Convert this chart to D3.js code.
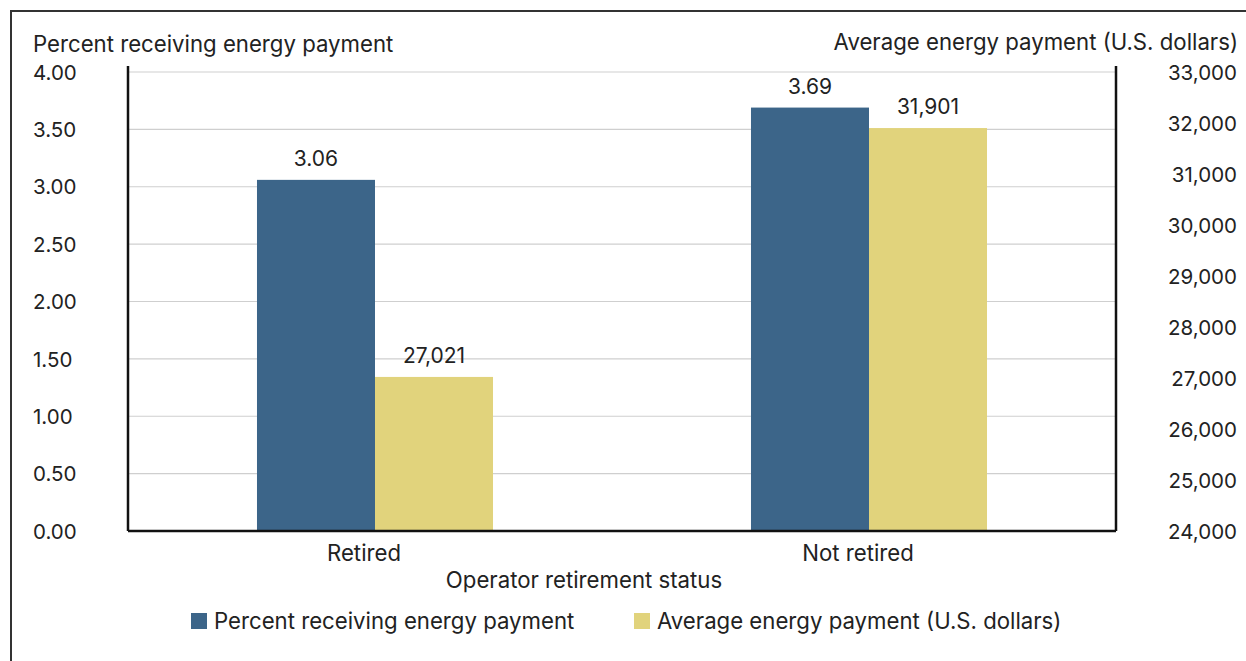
<!DOCTYPE html>
<html><head><meta charset="utf-8">
<script src="https://cdn.jsdelivr.net/npm/d3@7"></script>
<style>
html,body{margin:0;padding:0;background:#fff;}
svg text{font-family:Inter,"Open Sans",sans-serif;fill:#222;}
</style></head>
<body><svg id="c" width="1246" height="661"></svg>
<script>
const categories = ["Retired", "Not retired"];
const percentValues = [3.06, 3.69];
const paymentValues = [27021, 31901];
const leftTicks = [0, 0.5, 1, 1.5, 2, 2.5, 3, 3.5, 4];
const rightTicks = [24000, 25000, 26000, 27000, 28000, 29000, 30000, 31000, 32000, 33000];
const seriesNames = ["Percent receiving energy payment", "Average energy payment (U.S. dollars)"];
const colors = ["#3C6589", "#E1D37C"];

const svg = d3.select("#c");
const L = 128, R = 1116, T = 72, B = 531;
const fsWord = 22.2, fsVal = 21, fsTick = 20.5;

// outer frame
svg.append("path").attr("d", `M11,661 V11 H1246`).attr("fill","none").attr("stroke","#333").attr("stroke-width",2);

const x = d3.scaleBand().domain(categories).range([L, R]).paddingInner(0.5222).paddingOuter(0.2611);
const yL = d3.scaleLinear().domain([0, 4]).range([B, T]);
const yR = d3.scaleLinear().domain([24000, 33000]).range([B, T]);

// gridlines
svg.append("g").selectAll("line").data(leftTicks.slice(1)).join("line")
  .attr("x1", L).attr("x2", R).attr("y1", d => yL(d)).attr("y2", d => yL(d))
  .attr("stroke", "#cfcfcf").attr("stroke-width", 1.2);

// bars
const bw = x.bandwidth() / 2;
const g = svg.append("g");
g.selectAll("rect.p").data(categories).join("rect").attr("class","p")
  .attr("x", d => x(d)).attr("width", bw)
  .attr("y", (d,i) => yL(percentValues[i])).attr("height", (d,i) => B - yL(percentValues[i]))
  .attr("fill", colors[0]);
g.selectAll("rect.a").data(categories).join("rect").attr("class","a")
  .attr("x", d => x(d) + bw).attr("width", bw)
  .attr("y", (d,i) => yR(paymentValues[i])).attr("height", (d,i) => B - yR(paymentValues[i]))
  .attr("fill", colors[1]);

// value labels
g.selectAll("text.pl").data(categories).join("text").attr("class","pl")
  .attr("x", d => x(d) + bw/2).attr("y", (d,i) => yL(percentValues[i]) - 14)
  .attr("text-anchor","middle").attr("font-size", fsVal)
  .text((d,i) => d3.format(".2f")(percentValues[i]));
g.selectAll("text.al").data(categories).join("text").attr("class","al")
  .attr("x", d => x(d) + bw*1.5).attr("y", (d,i) => yR(paymentValues[i]) - 14)
  .attr("text-anchor","middle").attr("font-size", fsVal)
  .text((d,i) => d3.format(",")(paymentValues[i]));

// axes
const axL = svg.append("g").attr("transform", `translate(${L},0)`)
  .call(d3.axisLeft(yL).tickValues(leftTicks).tickSize(0).tickFormat(d3.format(".2f")));
axL.select(".domain").attr("stroke","#111").attr("stroke-width",2.5).attr("d", `M0,${T-6}V${B}`);
axL.selectAll("text").attr("font-size", fsTick).attr("text-anchor","start").attr("x", 33 - L).attr("dy","0.35em").attr("font-family","Inter");

const axR = svg.append("g").attr("transform", `translate(${R},0)`)
  .call(d3.axisRight(yR).tickValues(rightTicks).tickSize(0).tickFormat(d3.format(",")));
axR.select(".domain").attr("stroke","#111").attr("stroke-width",2.5).attr("d", `M0,${T-6}V${B}`);
axR.selectAll("text").attr("font-size", fsTick).attr("text-anchor","end").attr("x", 1237 - R).attr("dy","0.35em").attr("font-family","Inter");

const axB = svg.append("g").attr("transform", `translate(0,${B})`)
  .call(d3.axisBottom(x).tickSize(0));
axB.select(".domain").attr("stroke","#111").attr("stroke-width",2.5).attr("d", `M${L},0H${R}`);
axB.selectAll("text").attr("font-size", fsWord).attr("dx", -11).attr("y", 22).attr("dy","0.35em").attr("font-family","Inter");

// axis titles
svg.append("text").attr("x", 33).attr("y", 52).attr("font-size", fsWord).text("Percent receiving energy payment");
svg.append("text").attr("x", 1238).attr("y", 50).attr("font-size", fsWord).attr("text-anchor","end").text("Average energy payment (U.S. dollars)");
svg.append("text").attr("x", 584).attr("y", 588).attr("font-size", fsWord).attr("text-anchor","middle").text("Operator retirement status");

// legend
const legX = [191, 634];
const leg = svg.append("g").selectAll("g").data(seriesNames).join("g")
  .attr("transform", (d,i) => `translate(${legX[i]},613)`);
leg.append("rect").attr("width", 16).attr("height", 16).attr("fill", (d,i) => colors[i]);
leg.append("text").attr("x", 23).attr("y", 8).attr("dy","0.35em").attr("font-size", fsWord).text(d => d);
</script></body></html>
